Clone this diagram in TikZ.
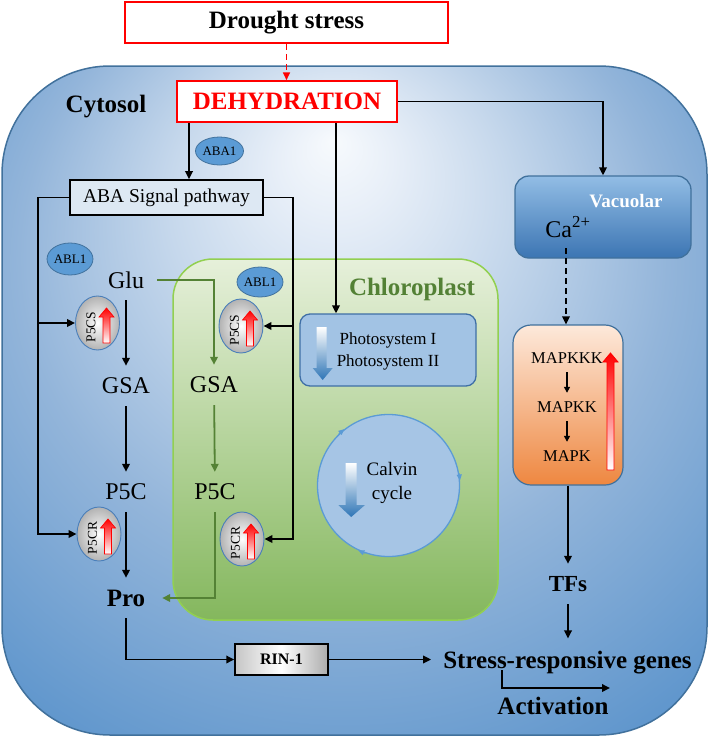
\documentclass[tikz,border=0pt]{standalone}
\usepackage{fontspec}
\setmainfont{Liberation Serif}
\usetikzlibrary{arrows.meta,calc,shapes.geometric}
\definecolor{cyA}{HTML}{F7FAFD}
\definecolor{cyB}{HTML}{E8EFF8}
\definecolor{cyC}{HTML}{C6D8EC}
\definecolor{cyD}{HTML}{93B5DA}
\definecolor{cyE}{HTML}{6197CD}
\definecolor{cyF}{HTML}{3A75B6}
\definecolor{cyedge}{HTML}{41719C}
\definecolor{chlA}{HTML}{E6F0DA}
\definecolor{chlB}{HTML}{BBD8A0}
\definecolor{chlC}{HTML}{84B75D}
\definecolor{chledge}{HTML}{92D050}
\definecolor{chltext}{HTML}{538135}
\definecolor{gline}{HTML}{548235}
\definecolor{ovalblue}{HTML}{5B9BD5}
\definecolor{ovaledge}{HTML}{41719C}
\definecolor{psfill}{HTML}{A2C3E4}
\definecolor{psedge}{HTML}{3F6FA6}
\definecolor{calfill}{HTML}{A6C5E5}
\definecolor{vacA}{HTML}{92BDE5}
\definecolor{vacB}{HTML}{3C75B3}
\definecolor{mapA}{HTML}{FDE9DB}
\definecolor{mapB}{HTML}{EE8740}
\definecolor{abafill}{HTML}{DDE8F3}
\definecolor{darrow}{HTML}{2E75B6}
\definecolor{enzedge}{HTML}{4A7FBA}
\pgfdeclareradialshading{cytoshade}{\pgfpoint{-1.5bp}{19.5bp}}{color(0bp)=(cyA); color(4bp)=(cyB); color(12bp)=(cyC); color(23bp)=(cyD); color(36bp)=(cyE); color(50bp)=(cyF)}
\newcommand\myenz[4]{%
  \node[enz] (#1) at (#2,#3) {};
  \node[rotate=90, inner sep=0, font=\fontsize{13.5}{15}\selectfont] at (#2-6.5,#3+4) {#4};
  \shade[top color=red, bottom color=white, draw=red, line width=0.7pt]
    (#2+5.5,#3+20) -- (#2+5.5,#3-6) -- (#2+1.5,#3-6) -- (#2+9,#3-15) -- (#2+16.5,#3-6) -- (#2+12.5,#3-6) -- (#2+12.5,#3+20) -- cycle;
}
\begin{document}
\begin{tikzpicture}[x=1pt,y=-1pt,
  arr/.style={line width=1.8pt, -{Triangle[width=7.5pt,length=8pt]}},
  garr/.style={arr, draw=gline, -{Triangle[width=7.5pt,length=8pt,fill=gline]}},
  smallarr/.style={line width=1.4pt, -{Triangle[width=6pt,length=6pt]}},
  calarr/.style={draw=ovalblue, line width=1pt, -{Triangle[width=5pt,length=6pt]}},
  bigb/.style={font=\fontsize{25}{30}\selectfont\bfseries},
  met/.style={font=\fontsize{24}{28}\selectfont, inner sep=0pt, minimum height=40pt, minimum width=50pt},
  enz/.style={ellipse, draw=enzedge, line width=0.9pt, inner color=white, outer color=gray!60, minimum width=44pt, minimum height=54pt, inner sep=0pt},
  oval/.style={ellipse, draw=ovaledge, line width=0.8pt, fill=ovalblue, inner sep=0pt, font=\fontsize{13}{15}\selectfont},
  bluearrow/.style={top color=white, bottom color=darrow, draw=none}
]
\useasboundingbox (0,0) rectangle (709,737);

% cytosol
\shade[shading=cytoshade, draw=cyedge, line width=1.5pt, rounded corners=108pt] (2,66) rectangle (707,735);
\node[bigb, anchor=base, inner sep=0pt] (cytosol) at (106,112) {Cytosol};

% top boxes
\node[draw=red, fill=white, line width=1.5pt, minimum width=323pt, minimum height=41pt, inner sep=0pt, bigb] (drought) at (286.5,22.5) {Drought stress};
\node[draw=red, fill=white, line width=1.5pt, minimum width=220pt, minimum height=41pt, inner sep=0pt, bigb, text=red] (dehyd) at (287,101.5) {DEHYDRATION};

% chloroplast
\node[draw=chledge, line width=1.5pt, top color=chlA, middle color=chlB, bottom color=chlC, rounded corners=40pt, minimum width=325pt, minimum height=361pt, inner sep=0pt] (chl) at (335.5,439.5) {};
\node[bigb, text=chltext, anchor=base, inner sep=0pt] (chltxt) at (412,295) {Chloroplast};

% photosystem
\node[draw=psedge, fill=psfill, rounded corners=10pt, line width=1.3pt, minimum width=176pt, minimum height=72pt, inner sep=0pt] (ps) at (388,350) {};
\shade[bluearrow] (316.7,327) -- (326.7,327) -- (326.7,368) -- (332.7,368) -- (322.7,380) -- (312.7,368) -- (316.7,368) -- cycle;
\node[align=center, inner sep=0pt, font=\fontsize{17}{22}\selectfont] (pstext) at (388,351) {Photosystem I\\Photosystem II};

% calvin
\node[circle, draw=ovalblue, fill=calfill, line width=1.3pt, minimum size=142pt, inner sep=0pt] (cal) at (388.5,485.5) {};
\draw[calarr] (cal.134) -- (cal.128);
\draw[calarr] (cal.10) -- (cal.4);
\draw[calarr] (cal.251) -- (cal.245);
\shade[bluearrow] (345.7,463) -- (356.7,463) -- (356.7,505) -- (365,505) -- (351.2,517) -- (338.3,505) -- (345.7,505) -- cycle;
\node[align=center, inner sep=0pt, font=\fontsize{19}{24}\selectfont] (caltext) at (392,483) {Calvin\\cycle};

% vacuolar
\node[draw=ovaledge, top color=vacA, bottom color=vacB, rounded corners=14pt, line width=1.3pt, minimum width=176pt, minimum height=82pt, inner sep=0pt] (vac) at (603,217) {};
\node[text=white, inner sep=0pt, font=\fontsize{19}{22}\selectfont\bfseries] (vactext) at (626,201) {Vacuolar};
\node[anchor=base, inner sep=0pt, font=\fontsize{24}{28}\selectfont] (ca) at (568,237) {Ca\textsuperscript{2+}};
\coordinate (cadash) at (566,248);

% MAPK
\node[draw=ovaledge, top color=mapA, bottom color=mapB, rounded corners=18pt, line width=1.2pt, minimum width=110pt, minimum height=160pt, inner sep=0pt] (mapk) at (568,405) {};
\shade[top color=red, bottom color=white, draw=red, line width=0.8pt] (607,470) -- (607,362) -- (603,362) -- (610.5,353) -- (618,362) -- (614,362) -- (614,470) -- cycle;
\node[inner sep=0pt, minimum height=28pt, font=\fontsize{16.5}{19}\selectfont] (mk1) at (567,358) {MAPKKK};
\node[inner sep=0pt, minimum height=28pt, font=\fontsize{16.5}{19}\selectfont] (mk2) at (567,407) {MAPKK};
\node[inner sep=0pt, minimum height=28pt, font=\fontsize{16.5}{19}\selectfont] (mk3) at (567,456) {MAPK};
\draw[smallarr] (mk1) -- (mk2);
\draw[smallarr] (mk2) -- (mk3);

% ABA
\node[oval, minimum width=45pt, minimum height=28pt] (aba1) at (219.5,151) {ABA1};
\node[draw=black, fill=abafill, line width=1.6pt, minimum width=193pt, minimum height=35pt, inner sep=0pt, font=\fontsize{19.5}{22}\selectfont] (aba) at (166.5,197.5) {ABA Signal pathway};
\node[oval, minimum width=45pt, minimum height=32pt] (abl1a) at (70,259) {ABL1};
\node[oval, minimum width=46pt, minimum height=30pt] (abl1b) at (260,282) {ABL1};

% metabolites cytosol
\node[met, minimum width=62pt] (glu) at (126,280) {Glu};
\node[met] (gsa1) at (126,386) {GSA};
\node[met] (p5c1) at (126,492) {P5C};
\node[met, minimum width=72pt, font=\fontsize{25}{28}\selectfont\bfseries] (pro) at (126,598) {Pro};
% metabolites chloroplast
\node[met] (gsa2) at (214,385) {GSA};
\node[met] (p5c2) at (215,492) {P5C};

% enzymes
\myenz{p5cs1}{97.5}{323}{P5CS}
\myenz{p5cr1}{99}{534}{P5CR}
\myenz{p5cs2}{241}{326}{P5CS}
\myenz{p5cr2}{242}{539}{P5CR}

% lower texts
\node[inner sep=0pt, minimum height=40pt, font=\fontsize{23}{26}\selectfont\bfseries] (tfs) at (568,584) {TFs};
\node[anchor=base, inner xsep=12pt, inner ysep=12pt, font=\fontsize{25}{28}\selectfont\bfseries] (stress) at (567.5,668) {Stress-responsive genes};
\node[inner sep=0pt, font=\fontsize{25}{28}\selectfont\bfseries] (act) at (553,706) {Activation};
\node[draw=black, line width=1.5pt, left color=gray!45, right color=gray!65, middle color=white, minimum width=93pt, minimum height=31pt, inner sep=0pt, font=\fontsize{16}{18}\selectfont\bfseries] (rin) at (281.5,659.5) {RIN-1};

% connectors
\draw[line width=1.6pt, draw=red, dash pattern=on 6pt off 4pt, -{Triangle[width=7pt,length=8pt,fill=red]}] (drought.south) -- (drought.south |- dehyd.north);
\coordinate (xa) at (189,0);
\coordinate (xp) at (336,0);
\draw[arr] (dehyd.south -| xa) -- (aba.north -| xa);
\draw[arr] (dehyd.south -| xp) -- (ps.north -| xp);
\draw[arr] (dehyd.east) -| (vac.north);

\coordinate (xl) at (38,0);
\coordinate (xr) at (293,0);
\draw[arr] (aba.west) -| (xl |- p5cr1.west) -- (p5cr1.west);
\draw[arr] (xl |- p5cs1.west) -- (p5cs1.west);
\draw[arr] (aba.east) -| (xr |- p5cr2.east) -- (p5cr2.east);
\draw[arr] (xr |- p5cs2.east) -- (p5cs2.east);

\draw[arr] (glu) -- (gsa1);
\draw[arr] (gsa1) -- (p5c1);
\draw[arr] (p5c1) -- (pro);

\draw[garr] (glu.east) -| (gsa2.north);
\draw[garr] (gsa2) -- (p5c2);
\draw[garr] (p5c2.south) |- (pro.east);

\draw[arr] (pro.south) |- (rin.west);
\draw[arr] (rin.east) -- (rin.east -| stress.west);

\draw[arr, dash pattern=on 6pt off 4pt] (cadash) -- (cadash |- mapk.north);
\draw[arr] (mapk.south) -- (mapk.south |- tfs.north);
\draw[arr] (tfs.south) -- (tfs.south |- stress.north);

\coordinate (a0) at (502,670);
\coordinate (a1) at (610,688);
\draw[arr] (a0) |- (a1);
\end{tikzpicture}
\end{document}
